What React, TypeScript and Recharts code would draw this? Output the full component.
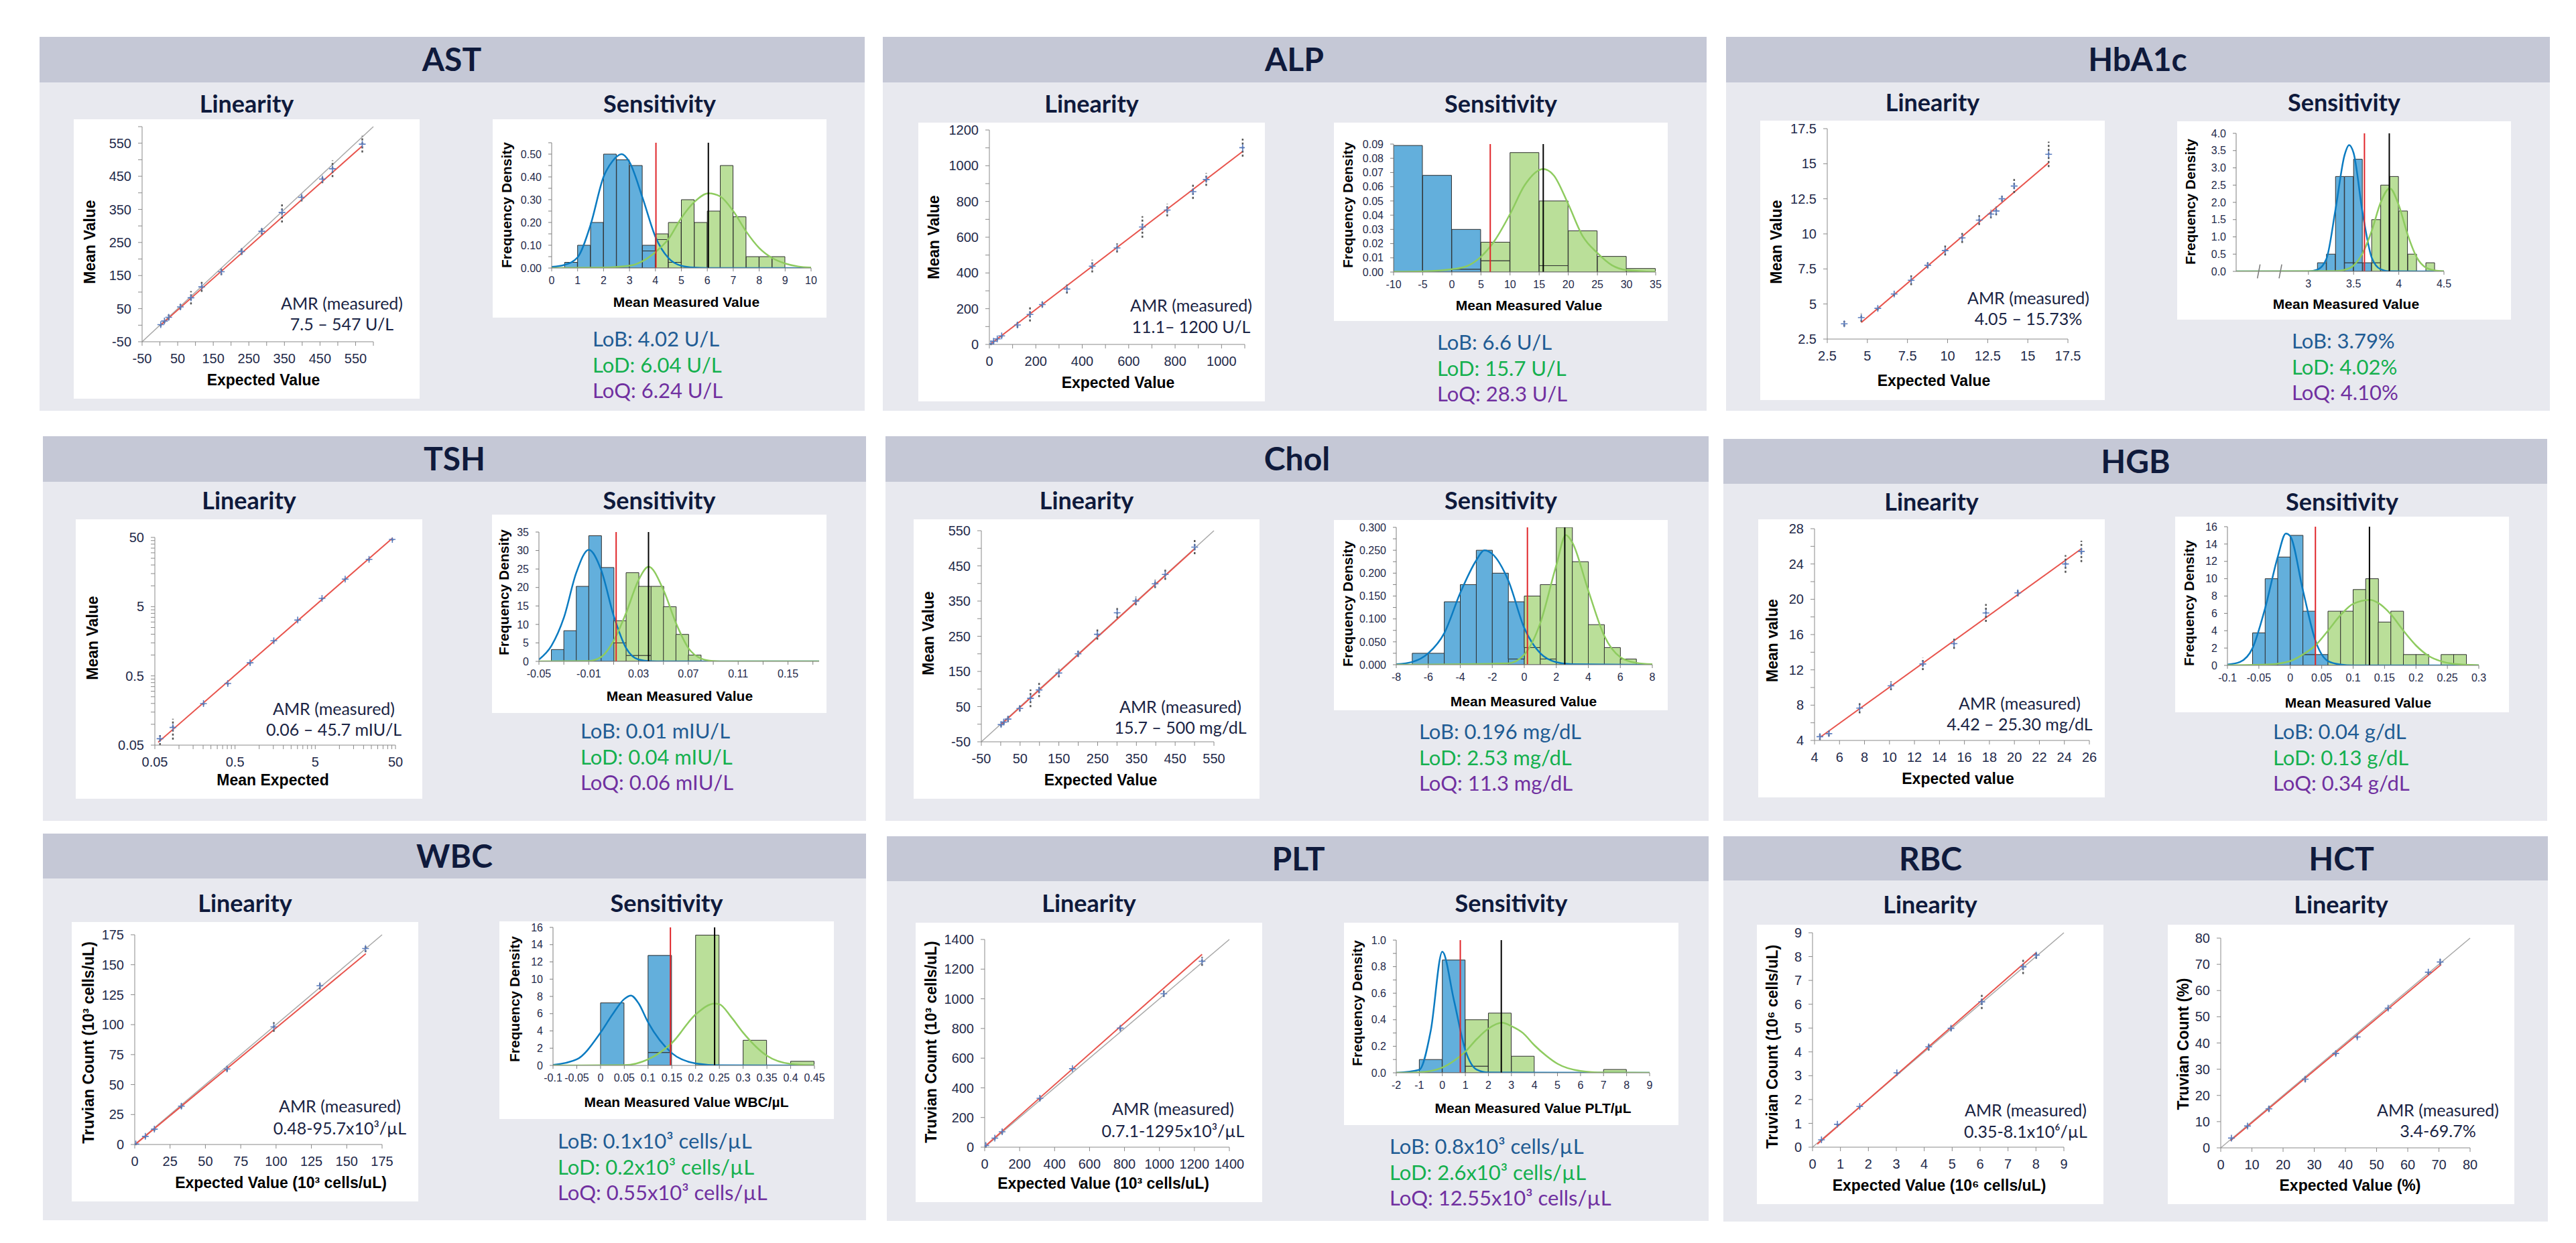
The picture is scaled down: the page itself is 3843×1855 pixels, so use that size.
import React from 'react';
import {
  ComposedChart,
  ScatterChart,
  Scatter,
  Bar,
  Line,
  XAxis,
  YAxis,
  ReferenceLine,
  ReferenceArea,
  ErrorBar,
  Cell,
} from 'recharts';

// ---------- AST ----------
const astLinX = [2.4, 12.8, 24.7, 57.6, 87.4, 117.5, 172.7, 229.6, 286.3, 343.2, 398.4, 456.8, 485.2, 568.9];
const astLinY = [1.7, 12.6, 23.8, 55.4, 82.8, 115.8, 161.6, 222.7, 283.9, 340.6, 386.4, 441.6, 472.6, 547];
const astLinSpread = [6, 6, 8, 8, 20, 15, 10, 10, 10, 30, 12, 12, 25, 25];
const astFit = [2, 0, 569, 542];
const astDiag = [-50, 600];
const astLinTicks = [-50, 0, 50, 100, 150, 200, 250, 300, 350, 400, 450, 500, 550, 600];
const astLinLabels = [-50, 50, 150, 250, 350, 450, 550];
const astBins = [0.25, 0.75, 1.25, 1.75, 2.25, 2.75, 3.25, 3.75, 4.25, 4.75, 5.25, 5.75, 6.25, 6.75, 7.25, 7.75, 8.25, 8.75, 9.25, 9.75];
const astBlue = [0, 0.025, 0.1, 0.2, 0.5, 0.475, 0.45, 0.1, 0.125, 0.025, 0, 0, 0, 0, 0, 0, 0, 0, 0, 0];
const astGreen = [0, 0, 0, 0, 0, 0, 0, 0.075, 0.15, 0.2, 0.3, 0.2, 0.25, 0.45, 0.225, 0.05, 0.05, 0.05, 0, 0];
const astBlueCurveX = [0, 0.5, 1, 1.5, 2, 2.35, 2.7, 3, 3.5, 4, 4.5, 5, 5.5, 6, 10];
const astBlueCurveY = [0.005, 0.014, 0.047, 0.19, 0.4, 0.47, 0.5, 0.465, 0.31, 0.137, 0.044, 0.01, 0.002, 0, 0];
const astGreenCurveX = [0, 2, 3, 3.5, 4, 4.5, 5, 5.5, 6.05, 6.5, 7, 7.5, 8, 8.5, 9, 9.5, 10];
const astGreenCurveY = [0, 0.002, 0.01, 0.03, 0.07, 0.127, 0.22, 0.29, 0.328, 0.314, 0.25, 0.16, 0.088, 0.044, 0.02, 0.007, 0.002];
const astSensXTicks = [0, 1, 2, 3, 4, 5, 6, 7, 8, 9, 10];
const astSensYTicks = [0, 0.05, 0.1, 0.15, 0.2, 0.25, 0.3, 0.35, 0.4, 0.45, 0.5, 0.55];
const astSensYLabels = [0, 0.1, 0.2, 0.3, 0.4, 0.5];
const astLimits = [4.02, 6.04];

// ---------- ALP ----------
const alpLinX = [7, 18, 34, 53, 121, 175, 228, 334, 443, 550, 659, 766, 877, 934, 1091];
const alpLinY = [4, 18, 31, 48, 109, 168, 223, 310, 438, 540, 657, 752, 855, 923, 1101];
const alpLinSpread = [8, 8, 8, 10, 15, 40, 15, 25, 35, 25, 60, 35, 40, 35, 50];
const alpFit = [5, 2, 1091, 1080];
const alpLinXTicks = [0, 100, 200, 300, 400, 500, 600, 700, 800, 900, 1000, 1100];
const alpLinXLabels = [0, 200, 400, 600, 800, 1000];
const alpLinYTicks = [0, 100, 200, 300, 400, 500, 600, 700, 800, 900, 1000, 1100, 1200];
const alpLinYLabels = [0, 200, 400, 600, 800, 1000, 1200];
const alpBins = [-7.5, -2.5, 2.5, 7.5, 12.5, 17.5, 22.5, 27.5, 32.5];
const alpBlue = [0.089, 0.068, 0.03, 0.008, 0, 0.0045, 0, 0, 0];
const alpGreen = [0, 0, 0.002, 0.021, 0.084, 0.05, 0.029, 0.011, 0.0025];
const alpGreenCurveX = [-10, -5, 0, 2.5, 5, 7.5, 10, 12.5, 15.7, 17.5, 20, 22.5, 25, 27.5, 30, 35];
const alpGreenCurveY = [0.0002, 0.0005, 0.002, 0.004, 0.0108, 0.023, 0.0408, 0.061, 0.0725, 0.068, 0.0477, 0.025, 0.0134, 0.0048, 0.0014, 0.0001];
const alpSensXTicks = [-10, -5, 0, 5, 10, 15, 20, 25, 30, 35];
const alpSensYTicks = [0, 0.01, 0.02, 0.03, 0.04, 0.05, 0.06, 0.07, 0.08, 0.09];
const alpLimits = [6.6, 15.7];

// ---------- HbA1c ----------
const hbaLinX = [3.56, 4.62, 5.65, 6.67, 7.73, 8.76, 9.85, 10.91, 11.97, 12.7, 13.03, 13.39, 14.15, 16.3];
const hbaLinY = [3.59, 4.03, 4.69, 5.71, 6.69, 7.76, 8.81, 9.71, 10.98, 11.41, 11.63, 12.5, 13.41, 15.67];
const hbaLinSpread = [0.2, 0.3, 0.15, 0.15, 0.35, 0.2, 0.35, 0.35, 0.35, 0.3, 0.3, 0.2, 0.5, 0.9];
const hbaFit = [4.62, 3.68, 16.3, 15.07];
const hbaLinTicks = [2.5, 5, 7.5, 10, 12.5, 15, 17.5];
const hbaBins = [3.05, 3.15, 3.25, 3.35, 3.45, 3.55, 3.65, 3.75, 3.85, 3.95, 4.05, 4.15, 4.25, 4.35, 4.45];
const hbaBlue = [0, 0.25, 0.5, 2.75, 2.75, 3.25, 0.25, 0.25, 0, 0, 0, 0, 0, 0, 0];
const hbaGreen = [0, 0, 0, 0, 0.25, 0.25, 0.25, 1.5, 2.5, 2.75, 1.75, 0.5, 0, 0.25, 0];
const hbaBlueCurveX = [2.2, 3.0, 3.1, 3.2, 3.3, 3.4, 3.45, 3.5, 3.6, 3.7, 3.8, 3.9, 4.5];
const hbaBlueCurveY = [0, 0, 0.05, 0.37, 1.8, 3.37, 3.66, 3.43, 1.69, 0.4, 0.06, 0.005, 0];
const hbaGreenCurveX = [2.2, 3.3, 3.4, 3.5, 3.6, 3.7, 3.8, 3.9, 4.0, 4.1, 4.2, 4.3, 4.4, 4.5];
const hbaGreenCurveY = [0, 0.01, 0.045, 0.17, 0.53, 1.17, 2.0, 2.41, 1.92, 1.05, 0.4, 0.11, 0.03, 0.005];
const hbaSensXTicks = [3, 3.5, 4, 4.5];
const hbaSensYTicks = [0, 0.5, 1, 1.5, 2, 2.5, 3, 3.5, 4];
const hbaLimits = [3.62, 3.895];
const hbaBreaks = [2.45, 2.69];

// ---------- TSH ----------
const tshLinX = [0.058, 0.084, 0.202, 0.406, 0.77, 1.52, 3.02, 6.07, 11.8, 23.4, 45.7];
const tshLinY = [0.062, 0.09, 0.199, 0.389, 0.773, 1.61, 3.2, 6.59, 12.5, 24.1, 46.7];
const tshLinSpread = [0.012, 0.03, 0.01, 0.02, 0.04, 0.08, 0.15, 0.3, 0.5, 1, 2];
const tshFit = [0.055, 0.055, 46, 49];
const tshLinTicks = [0.05, 0.1, 0.15, 0.2, 0.25, 0.3, 0.35, 0.4, 0.45, 0.5, 1, 1.5, 2, 2.5, 3, 3.5, 4, 4.5, 5, 10, 15, 20, 25, 30, 35, 40, 45, 50];
const tshLinLabels = [0.05, 0.5, 5, 50];
const tshBins = [-0.045, -0.035, -0.025, -0.015, -0.005, 0.005, 0.015, 0.025, 0.035, 0.045, 0.055, 0.065, 0.075, 0.085, 0.095, 0.105, 0.115, 0.125, 0.135, 0.145, 0.155, 0.165];
const tshBlue = [0, 3.2, 8.3, 20.3, 34, 25.4, 5, 1.6, 1.6, 0, 0, 0, 0, 0, 0, 0, 0, 0, 0, 0, 0, 0];
const tshGreen = [0, 0, 0, 0, 0, 0, 11, 24, 20.3, 20.3, 14.8, 7.3, 1.7, 0, 0, 0, 0, 0, 0, 0, 0, 0];
const tshBlueCurveX = [-0.05, -0.04, -0.03, -0.02, -0.01, 0, 0.01, 0.02, 0.03, 0.04, 0.05, 0.175];
const tshBlueCurveY = [0.5, 4.2, 11.8, 24, 30.2, 24.7, 12.4, 3.6, 0.5, 0.05, 0, 0];
const tshGreenCurveX = [-0.05, -0.01, 0, 0.01, 0.02, 0.03, 0.038, 0.05, 0.06, 0.07, 0.08, 0.09, 0.1, 0.175];
const tshGreenCurveY = [0, 0.1, 1.2, 5.6, 13.1, 22, 25.6, 19.3, 10.4, 3.6, 0.8, 0.1, 0, 0];
const tshSensXTicks = [-0.05, -0.03, -0.01, 0.01, 0.03, 0.05, 0.07, 0.09, 0.11, 0.13, 0.15, 0.17];
const tshSensXLabels = [-0.05, -0.01, 0.03, 0.07, 0.11, 0.15];
const tshSensYTicks = [0, 5, 10, 15, 20, 25, 30, 35];
const tshLimits = [0.012, 0.038];

// ---------- Chol ----------
const cholLinX = [0.9, 7.9, 18.9, 49.2, 76.8, 99, 150, 199.6, 249.3, 300.4, 348.6, 398.3, 424.4, 500.3];
const cholLinY = [-1.1, 6, 14.6, 44.7, 73.6, 97.3, 145.4, 200, 255.4, 316.6, 350.2, 399.1, 425.6, 503.4];
const cholLinSpread = [6, 6, 8, 8, 25, 20, 12, 8, 15, 15, 12, 12, 15, 20];
const cholFit = [0, -2, 500, 498];
const cholDiag = [-50, 550];
const cholLinTicks = [-50, 0, 50, 100, 150, 200, 250, 300, 350, 400, 450, 500, 550];
const cholLinLabels = [-50, 50, 150, 250, 350, 450, 550];
const cholBins = [-7.5, -6.5, -5.5, -4.5, -3.5, -2.5, -1.5, -0.5, 0.5, 1.5, 2.5, 3.5, 4.5, 5.5, 6.5, 7.5];
const cholBlue = [0, 0.025, 0.025, 0.1375, 0.175, 0.25, 0.2, 0.1375, 0.0375, 0.0125, 0, 0, 0, 0, 0, 0];
const cholGreen = [0, 0, 0, 0, 0, 0, 0, 0.0125, 0.15, 0.175, 0.3, 0.225, 0.0875, 0.0375, 0.0125, 0];
const cholBlueCurveX = [-8, -7, -6, -5, -4, -3, -2.5, -2, -1, 0, 1, 2, 3, 8];
const cholBlueCurveY = [0.001, 0.006, 0.025, 0.069, 0.157, 0.228, 0.25, 0.242, 0.184, 0.08, 0.025, 0.0055, 0.001, 0];
const cholGreenCurveX = [-8, -1, 0, 1, 2, 2.6, 3, 4, 5, 6, 7, 8];
const cholGreenCurveY = [0, 0.003, 0.022, 0.091, 0.217, 0.283, 0.267, 0.162, 0.063, 0.0165, 0.004, 0.001];
const cholSensXTicks = [-8, -6, -4, -2, 0, 2, 4, 6, 8];
const cholSensYTicks = [0, 0.025, 0.05, 0.075, 0.1, 0.125, 0.15, 0.175, 0.2, 0.225, 0.25, 0.275, 0.3];
const cholSensYLabels = [0, 0.05, 0.1, 0.15, 0.2, 0.25, 0.3];
const cholLimits = [0.196, 2.53];

// ---------- HGB ----------
const hgbLinX = [4.43, 5.15, 7.61, 10.12, 12.67, 15.17, 17.72, 20.27, 24.09, 25.36];
const hgbLinY = [4.43, 4.77, 7.67, 10.19, 12.67, 14.98, 18.45, 20.73, 24, 25.43];
const hgbLinSpread = [0.4, 0.3, 0.6, 0.5, 0.7, 0.6, 1.0, 0.4, 1.0, 1.2];
const hgbFit = [4.43, 4.34, 25.36, 25.72];
const hgbLinXTicks = [4, 6, 8, 10, 12, 14, 16, 18, 20, 22, 24, 26];
const hgbLinYTicks = [4, 6, 8, 10, 12, 14, 16, 18, 20, 22, 24, 26, 28];
const hgbLinYLabels = [4, 8, 12, 16, 20, 24, 28];
const hgbBins = [-0.09, -0.07, -0.05, -0.03, -0.01, 0.01, 0.03, 0.05, 0.07, 0.09, 0.11, 0.13, 0.15, 0.17, 0.19, 0.21, 0.23, 0.25, 0.27, 0.29];
const hgbBlue = [0, 0, 3.75, 10, 12.5, 15, 6.25, 1.25, 0, 0, 0, 0, 0, 0, 0, 0, 0, 0, 0, 0];
const hgbGreen = [0, 0, 0, 0, 0, 0, 1.25, 1.25, 6.25, 6.25, 8.75, 10, 5, 6.25, 1.25, 1.25, 0, 1.25, 1.25, 0];
const hgbBlueCurveX = [-0.1, -0.08, -0.06, -0.04, -0.02, -0.007, 0, 0.02, 0.04, 0.06, 0.08, 0.1, 0.3];
const hgbBlueCurveY = [0.1, 0.4, 2, 6.6, 12.5, 15.2, 14.9, 8.7, 2.85, 0.5, 0.1, 0, 0];
const hgbGreenCurveX = [-0.1, -0.04, -0.02, 0, 0.02, 0.04, 0.06, 0.08, 0.1, 0.127, 0.14, 0.16, 0.18, 0.2, 0.22, 0.24, 0.26, 0.3];
const hgbGreenCurveY = [0.02, 0.1, 0.2, 0.5, 1.25, 2.3, 4, 5.8, 7.1, 7.56, 7.2, 5.9, 4, 2.3, 1.1, 0.47, 0.17, 0.02];
const hgbSensXTicks = [-0.1, -0.05, 0, 0.05, 0.1, 0.15, 0.2, 0.25, 0.3];
const hgbSensYTicks = [0, 2, 4, 6, 8, 10, 12, 14, 16];
const hgbLimits = [0.04, 0.126];

// ---------- WBC ----------
const wbcLinX = [0.76, 7.5, 13.9, 33, 65.3, 98.4, 131, 163.3];
const wbcLinY = [0.4, 6.8, 12.8, 32, 63, 98.1, 132.5, 163.5];
const wbcLinSpread = [1, 1.5, 1.5, 2, 2, 4, 3, 3];
const wbcFit = [0.76, 0.5, 163.5, 159.2];
const wbcDiag = [0, 175];
const wbcLinTicks = [0, 25, 50, 75, 100, 125, 150, 175];
const wbcBins = [-0.075, -0.025, 0.025, 0.075, 0.125, 0.175, 0.225, 0.275, 0.325, 0.375, 0.425];
const wbcBlue = [0, 0, 7.25, 0, 12.75, 0, 0, 0, 0, 0, 0];
const wbcGreen = [0, 0, 0, 0, 1.5, 0, 15.1, 0, 2.92, 0, 0.48];
const wbcBlueCurveX = [-0.1, -0.05, 0, 0.025, 0.05, 0.064, 0.08, 0.1, 0.15, 0.2, 0.25, 0.45];
const wbcBlueCurveY = [0.05, 0.7, 3.8, 5.9, 7.7, 8.1, 7.2, 5, 1.43, 0.24, 0.02, 0];
const wbcGreenCurveX = [-0.1, 0.05, 0.1, 0.15, 0.2, 0.24, 0.25, 0.275, 0.3, 0.35, 0.4, 0.45];
const wbcGreenCurveY = [0, 0.03, 0.7, 2.6, 5.9, 7.17, 7.1, 5.6, 3.8, 1.13, 0.18, 0.02];
const wbcSensXTicks = [-0.1, -0.05, 0, 0.05, 0.1, 0.15, 0.2, 0.25, 0.3, 0.35, 0.4, 0.45];
const wbcSensYTicks = [0, 2, 4, 6, 8, 10, 12, 14, 16];
const wbcLimits = [0.147, 0.24];

// ---------- PLT ----------
const pltLinX = [6, 58, 100, 316, 502, 776, 1025, 1244];
const pltLinY = [12, 61, 104, 330, 529, 802, 1034, 1253];
const pltLinSpread = [15, 10, 15, 15, 10, 15, 20, 30];
const pltFit = [6, 10, 1244, 1300];
const pltDiag = [0, 1400];
const pltLinTicks = [0, 200, 400, 600, 800, 1000, 1200, 1400];
const pltBins = [-1.5, -0.5, 0.5, 1.5, 2.5, 3.5, 4.5, 5.5, 6.5, 7.5, 8.5];
const pltBlue = [0, 0.1, 0.85, 0.05, 0, 0, 0, 0, 0, 0, 0];
const pltGreen = [0, 0, 0, 0.4, 0.45, 0.125, 0, 0, 0, 0.025, 0];
const pltBlueCurveX = [-2, -1, -0.5, 0, 0.5, 1, 1.5, 2, 9];
const pltBlueCurveY = [0, 0.023, 0.32, 0.913, 0.55, 0.17, 0.023, 0.002, 0];
const pltGreenCurveX = [-2, -1, 0, 0.5, 1, 1.5, 2, 2.6, 3, 3.5, 4, 4.5, 5, 6, 7, 9];
const pltGreenCurveY = [0, 0.004, 0.04, 0.09, 0.16, 0.255, 0.333, 0.377, 0.352, 0.3, 0.207, 0.13, 0.068, 0.014, 0.002, 0];
const pltSensXTicks = [-2, -1, 0, 1, 2, 3, 4, 5, 6, 7, 8, 9];
const pltSensYTicks = [0, 0.1, 0.2, 0.3, 0.4, 0.5, 0.6, 0.7, 0.8, 0.9, 1];
const pltSensYLabels = [0, 0.2, 0.4, 0.6, 0.8, 1];
const pltLimits = [0.78, 2.56];

// ---------- RBC / HCT ----------
const rbcLinX = [0.32, 0.89, 1.69, 3.02, 4.16, 4.96, 6.06, 7.54, 8.01];
const rbcLinY = [0.31, 0.96, 1.71, 3.12, 4.21, 4.99, 6.1, 7.57, 8.06];
const rbcLinSpread = [0.06, 0.06, 0.06, 0.06, 0.15, 0.1, 0.3, 0.3, 0.15];
const rbcFit = [0.17, 0.13, 8.01, 8.16];
const rbcDiag = [0, 9];
const rbcLinTicks = [0, 1, 2, 3, 4, 5, 6, 7, 8, 9];
const hctLinX = [3.43, 8.58, 15.46, 27.1, 36.9, 43.8, 53.7, 66.6, 70.4];
const hctLinY = [3.73, 8.33, 14.87, 26.2, 36, 42.3, 53.3, 67, 70.9];
const hctLinSpread = [0.8, 0.8, 1, 1, 0.8, 0.6, 0.8, 0.8, 1];
const hctFit = [3.1, 2.73, 70.7, 69.9];
const hctDiag = [0, 80];
const hctLinTicks = [0, 10, 20, 30, 40, 50, 60, 70, 80];

// ---------- look ----------
const UI = 'Lato, "Noto Sans", sans-serif';
const CH = '"Liberation Sans", Arial, sans-serif';
const NAVY = '#0f1a3c';
const TICK = '#1f2a4a';
const HEAD_BG = '#c5c8d6';
const BODY_BG = '#e8e9ef';
const BAR_BLUE = '#63afdc';
const BAR_GREEN = '#badf99';
const BAR_BOTH = '#7dc38b';
const CURVE_BLUE = '#0b7bc1';
const CURVE_GREEN = '#8ecb5f';
const LOB_C = '#1f5c94';
const LOD_C = '#14b04e';
const LOQ_C = '#7030a0';

const pick = (labels: number[]) => (v: number) => (labels.includes(v) ? String(v) : '');
const pickFixed = (labels: number[], d: number) => (v: number) => (labels.includes(v) ? v.toFixed(d) : '');
const zip = (xs: number[], ys: number[]) => xs.map((x, i) => ({ x, y: ys[i] }));

const plus = (p: any) => (
  <path
    d={`M${p.cx - 5},${p.cy}h10M${p.cx},${p.cy - 5}v10`}
    stroke="#5a7cbf"
    strokeWidth={1.6}
  />
);

const LinChart = ({ c }: { c: any }) => {
  const rows = c.xs.map((x: number, i: number) => ({
    x,
    y: c.ys[i],
    err: [c.spread[i], c.spread[i]],
  }));
  const tick = { fill: TICK, fontSize: 20, fontFamily: CH };
  return (
    <div style={{ position: 'absolute', left: c.box.x, top: c.box.y, width: c.box.w, height: c.box.h, background: '#fff' }}>
      <ScatterChart
        width={c.box.w}
        height={c.box.h}
        margin={{ top: c.inset.t, right: c.inset.r, left: 0, bottom: 0 }}
      >
        <XAxis
          type="number"
          dataKey="x"
          scale={c.log ? 'log' : 'auto'}
          domain={c.xDomain}
          ticks={c.xTicks}
          interval={0}
          tickFormatter={pick(c.xLabels)}
          allowDataOverflow
          height={c.inset.b}
          stroke="#8a8a8a"
          tick={tick}
          tickSize={6}
          tickMargin={12}
        />
        <YAxis
          type="number"
          dataKey="y"
          scale={c.log ? 'log' : 'auto'}
          domain={c.yDomain}
          ticks={c.yTicks}
          interval={0}
          tickFormatter={pick(c.yLabels)}
          allowDataOverflow
          width={c.inset.l}
          stroke="#8a8a8a"
          tick={tick}
          tickSize={6}
          tickMargin={10}
        />
        {c.diag && (
          <ReferenceLine
            segment={[{ x: c.diag[0], y: c.diag[0] }, { x: c.diag[1], y: c.diag[1] }]}
            stroke="#a8a8a8"
            strokeWidth={1.5}
            ifOverflow="visible"
          />
        )}
        <ReferenceLine
          segment={[{ x: c.fit[0], y: c.fit[1] }, { x: c.fit[2], y: c.fit[3] }]}
          stroke="#e8544d"
          strokeWidth={2}
          ifOverflow="visible"
        />
        <Scatter data={rows} shape={plus} isAnimationActive={false}>
          <ErrorBar dataKey="err" direction="y" width={0} stroke="#555" strokeWidth={2.5} strokeDasharray="3 3" />
        </Scatter>
      </ScatterChart>
    </div>
  );
};

const SensChart = ({ c }: { c: any }) => {
  const rows = c.bins.map((x: number, i: number) => {
    const lo = Math.min(c.blue[i], c.green[i]);
    return {
      x,
      both: lo,
      extra: Math.max(c.blue[i], c.green[i]) - lo,
      fill: c.blue[i] >= c.green[i] ? BAR_BLUE : BAR_GREEN,
    };
  });
  const tick = { fill: TICK, fontSize: 16, fontFamily: CH };
  return (
    <div style={{ position: 'absolute', left: c.box.x, top: c.box.y, width: c.box.w, height: c.box.h, background: '#fff' }}>
      <ComposedChart
        width={c.box.w}
        height={c.box.h}
        data={rows}
        barCategoryGap={0}
        barGap={0}
        margin={{ top: c.inset.t, right: c.inset.r, left: 0, bottom: 0 }}
      >
        <XAxis
          xAxisId="v"
          type="number"
          dataKey="x"
          domain={c.xDomain}
          ticks={c.xTicks}
          interval={0}
          tickFormatter={pick(c.xLabels)}
          allowDataOverflow
          height={c.inset.b}
          stroke="#7f7f7f"
          tick={tick}
          tickSize={5}
          tickMargin={8}
        />
        <XAxis xAxisId="bins" type="number" dataKey="x" domain={c.xDomain} allowDataOverflow hide height={0} />
        <YAxis
          type="number"
          domain={c.yDomain}
          ticks={c.yTicks}
          interval={0}
          tickFormatter={pickFixed(c.yLabels, c.yDec)}
          allowDataOverflow
          width={c.inset.l}
          stroke="#7f7f7f"
          tick={tick}
          tickSize={5}
          tickMargin={10}
        />
        <Bar xAxisId="bins" dataKey="both" stackId="h" fill={BAR_BOTH} stroke="#2e2e2e" strokeWidth={1} isAnimationActive={false} />
        <Bar xAxisId="bins" dataKey="extra" stackId="h" stroke="#2e2e2e" strokeWidth={1} isAnimationActive={false}>
          {rows.map((r: any, i: number) => (
            <Cell key={i} fill={r.fill} />
          ))}
        </Bar>
        {c.blueCurve && (
          <Line xAxisId="v" data={c.blueCurve} dataKey="y" type="monotone" stroke={CURVE_BLUE} strokeWidth={2.5} dot={false} isAnimationActive={false} />
        )}
        <Line xAxisId="v" data={c.greenCurve} dataKey="y" type="monotone" stroke={CURVE_GREEN} strokeWidth={2.5} dot={false} isAnimationActive={false} />
        {c.breaks && (
          <ReferenceArea xAxisId="v" x1={c.breaks[0]} x2={c.breaks[1]} y1={-0.12} y2={0.06} fill="#fff" fillOpacity={1} stroke="none" ifOverflow="visible" />
        )}
        {c.breaks &&
          c.breaks.map((b: number) => (
            <ReferenceLine
              key={b}
              xAxisId="v"
              segment={[{ x: b - 0.015, y: -0.2 }, { x: b + 0.015, y: 0.2 }]}
              stroke="#777"
              strokeWidth={1.5}
              ifOverflow="visible"
            />
          ))}
        <ReferenceLine xAxisId="v" x={c.limits[0]} stroke="#e0262a" strokeWidth={2} />
        <ReferenceLine xAxisId="v" x={c.limits[1]} stroke="#000" strokeWidth={2} />
      </ComposedChart>
    </div>
  );
};

const linCharts = [
  { box: { x: 110, y: 178, w: 516, h: 417 }, inset: { l: 102, t: 11, r: 69, b: 85 }, xDomain: [-50, 600], yDomain: [-50, 600], xTicks: astLinTicks, xLabels: astLinLabels, yTicks: astLinTicks, yLabels: astLinLabels, xs: astLinX, ys: astLinY, spread: astLinSpread, fit: astFit, diag: astDiag, yTitle: 'Mean Value', xTitle: 'Expected Value', yT: [134, 361], xT: [393, 567], amr: '7.5 – 547 U/L', amrPos: [510, 452, 483], subY: 168 },
  { box: { x: 1370, y: 183, w: 517, h: 416 }, inset: { l: 106, t: 11, r: 30, b: 85 }, xDomain: [0, 1100], yDomain: [0, 1200], xTicks: alpLinXTicks, xLabels: alpLinXLabels, yTicks: alpLinYTicks, yLabels: alpLinYLabels, xs: alpLinX, ys: alpLinY, spread: alpLinSpread, fit: alpFit, yTitle: 'Mean Value', xTitle: 'Expected Value', yT: [1393, 354], xT: [1668, 571], amr: '11.1– 1200 U/L', amrPos: [1777, 455, 487], subY: 168 },
  { box: { x: 2626, y: 180, w: 514, h: 417 }, inset: { l: 100, t: 12, r: 55, b: 91 }, xDomain: [2.5, 17.5], yDomain: [2.5, 17.5], xTicks: hbaLinTicks, xLabels: hbaLinTicks, yTicks: hbaLinTicks, yLabels: hbaLinTicks, xs: hbaLinX, ys: hbaLinY, spread: hbaLinSpread, fit: hbaFit, yTitle: 'Mean Value', xTitle: 'Expected Value', yT: [2650, 361], xT: [2885, 568], amr: '4.05 – 15.73%', amrPos: [3026, 444, 475], subY: 166 },
  { box: { x: 113, y: 775, w: 517, h: 417 }, inset: { l: 118, t: 27, r: 40, b: 80 }, log: true, xDomain: [0.05, 50], yDomain: [0.05, 50], xTicks: tshLinTicks, xLabels: tshLinLabels, yTicks: tshLinTicks, yLabels: tshLinLabels, xs: tshLinX, ys: tshLinY, spread: tshLinSpread, fit: tshFit, yTitle: 'Mean Value', xTitle: 'Mean Expected', yT: [138, 952], xT: [407, 1164], amr: '0.06 – 45.7 mIU/L', amrPos: [498, 1057, 1088], subY: 760 },
  { box: { x: 1363, y: 775, w: 516, h: 417 }, inset: { l: 101, t: 17, r: 68, b: 85 }, xDomain: [-50, 550], yDomain: [-50, 550], xTicks: cholLinTicks, xLabels: cholLinLabels, yTicks: cholLinTicks, yLabels: cholLinLabels, xs: cholLinX, ys: cholLinY, spread: cholLinSpread, fit: cholFit, diag: cholDiag, yTitle: 'Mean Value', xTitle: 'Expected Value', yT: [1385, 945], xT: [1642, 1164], amr: '15.7 – 500 mg/dL', amrPos: [1761, 1054, 1085], subY: 760 },
  { box: { x: 2623, y: 775, w: 517, h: 415 }, inset: { l: 84, t: 14, r: 23, b: 85 }, xDomain: [4, 26], yDomain: [4, 28], xTicks: hgbLinXTicks, xLabels: hgbLinXTicks, yTicks: hgbLinYTicks, yLabels: hgbLinYLabels, xs: hgbLinX, ys: hgbLinY, spread: hgbLinSpread, fit: hgbFit, yTitle: 'Mean value', xTitle: 'Expected value', yT: [2644, 956], xT: [2921, 1162], amr: '4.42 – 25.30 mg/dL', amrPos: [3013, 1049, 1080], subY: 762 },
  { box: { x: 107, y: 1376, w: 517, h: 417 }, inset: { l: 94, t: 19, r: 54, b: 85 }, xDomain: [0, 175], yDomain: [0, 175], xTicks: wbcLinTicks, xLabels: wbcLinTicks, yTicks: wbcLinTicks, yLabels: wbcLinTicks, xs: wbcLinX, ys: wbcLinY, spread: wbcLinSpread, fit: wbcFit, diag: wbcDiag, yTitle: 'Truvian Count (10³ cells/uL)', xTitle: 'Expected Value (10³ cells/uL)', yT: [132, 1556], xT: [419, 1765], amr: '0.48-95.7x10³/µL', amrPos: [507, 1650, 1683], subY: 1361 },
  { box: { x: 1366, y: 1377, w: 517, h: 417 }, inset: { l: 103, t: 25, r: 49, b: 82 }, xDomain: [0, 1400], yDomain: [0, 1400], xTicks: pltLinTicks, xLabels: pltLinTicks, yTicks: pltLinTicks, yLabels: pltLinTicks, xs: pltLinX, ys: pltLinY, spread: pltLinSpread, fit: pltFit, diag: pltDiag, yTitle: 'Truvian Count (10³ cells/uL)', xTitle: 'Expected Value (10³ cells/uL)', yT: [1389, 1555], xT: [1646, 1766], amr: '0.7.1-1295x10³/µL', amrPos: [1750, 1654, 1687], subY: 1361 },
  { box: { x: 2621, y: 1380, w: 517, h: 417 }, inset: { l: 83, t: 12, r: 59, b: 85 }, xDomain: [0, 9], yDomain: [0, 9], xTicks: rbcLinTicks, xLabels: rbcLinTicks, yTicks: rbcLinTicks, yLabels: rbcLinTicks, xs: rbcLinX, ys: rbcLinY, spread: rbcLinSpread, fit: rbcFit, diag: rbcDiag, yTitle: 'Truvian Count (10⁶ cells/uL)', xTitle: 'Expected Value (10⁶ cells/uL)', yT: [2644, 1562], xT: [2893, 1769], amr: '0.35-8.1x10⁶/µL', amrPos: [3022, 1656, 1688], subY: 1363 },
  { box: { x: 3234, y: 1380, w: 517, h: 417 }, inset: { l: 79, t: 20, r: 66, b: 84 }, xDomain: [0, 80], yDomain: [0, 80], xTicks: hctLinTicks, xLabels: hctLinTicks, yTicks: hctLinTicks, yLabels: hctLinTicks, xs: hctLinX, ys: hctLinY, spread: hctLinSpread, fit: hctFit, diag: hctDiag, yTitle: 'Truvian Count (%)', xTitle: 'Expected Value (%)', yT: [3257, 1558], xT: [3506, 1769], amr: '3.4-69.7%', amrPos: [3637, 1656, 1687], subY: 1363 },
];

const sensCharts = [
  { box: { x: 735, y: 178, w: 498, h: 296 }, inset: { l: 88, t: 35, r: 23, b: 74 }, xDomain: [0, 10], yDomain: [0, 0.55], xTicks: astSensXTicks, xLabels: astSensXTicks, yTicks: astSensYTicks, yLabels: astSensYLabels, yDec: 2, bins: astBins, blue: astBlue, green: astGreen, blueCurve: zip(astBlueCurveX, astBlueCurveY), greenCurve: zip(astGreenCurveX, astGreenCurveY), limits: astLimits, xTitle: 'Mean Measured Value', fT: [755, 306], mT: [1024, 450], stats: ['LoB: 4.02 U/L', 'LoD: 6.04 U/L', 'LoQ: 6.24 U/L'], statsPos: [884, 505], subY: 168 },
  { box: { x: 1990, y: 183, w: 498, h: 296 }, inset: { l: 89, t: 32, r: 18, b: 73 }, xDomain: [-10, 35], yDomain: [0, 0.09], xTicks: alpSensXTicks, xLabels: alpSensXTicks, yTicks: alpSensYTicks, yLabels: alpSensYTicks, yDec: 2, bins: alpBins, blue: alpBlue, green: alpGreen, greenCurve: zip(alpGreenCurveX, alpGreenCurveY), limits: alpLimits, xTitle: 'Mean Measured Value', fT: [2010, 306], mT: [2281, 455], stats: ['LoB: 6.6 U/L', 'LoD: 15.7 U/L', 'LoQ: 28.3 U/L'], statsPos: [2144, 510], subY: 168 },
  { box: { x: 3248, y: 181, w: 498, h: 296 }, inset: { l: 88, t: 18, r: 100, b: 72 }, xDomain: [2.2, 4.5], yDomain: [0, 4], xTicks: hbaSensXTicks, xLabels: hbaSensXTicks, yTicks: hbaSensYTicks, yLabels: hbaSensYTicks, yDec: 1, bins: hbaBins, blue: hbaBlue, green: hbaGreen, blueCurve: zip(hbaBlueCurveX, hbaBlueCurveY), greenCurve: zip(hbaGreenCurveX, hbaGreenCurveY), limits: hbaLimits, breaks: hbaBreaks, xTitle: 'Mean Measured Value', fT: [3267, 301], mT: [3500, 453], stats: ['LoB: 3.79%', 'LoD: 4.02%', 'LoQ: 4.10%'], statsPos: [3419, 508], subY: 166 },
  { box: { x: 734, y: 768, w: 499, h: 296 }, inset: { l: 70, t: 26, r: 11, b: 77 }, xDomain: [-0.05, 0.175], yDomain: [0, 35], xTicks: tshSensXTicks, xLabels: tshSensXLabels, yTicks: tshSensYTicks, yLabels: tshSensYTicks, yDec: 0, bins: tshBins, blue: tshBlue, green: tshGreen, blueCurve: zip(tshBlueCurveX, tshBlueCurveY), greenCurve: zip(tshGreenCurveX, tshGreenCurveY), limits: tshLimits, xTitle: 'Mean Measured Value', fT: [751, 884], mT: [1014, 1038], stats: ['LoB: 0.01 mIU/L', 'LoD: 0.04 mIU/L', 'LoQ: 0.06 mIU/L'], statsPos: [866, 1090], subY: 760 },
  { box: { x: 1990, y: 776, w: 498, h: 284 }, inset: { l: 93, t: 11, r: 23, b: 68 }, xDomain: [-8, 8], yDomain: [0, 0.3], xTicks: cholSensXTicks, xLabels: cholSensXTicks, yTicks: cholSensYTicks, yLabels: cholSensYLabels, yDec: 3, bins: cholBins, blue: cholBlue, green: cholGreen, blueCurve: zip(cholBlueCurveX, cholBlueCurveY), greenCurve: zip(cholGreenCurveX, cholGreenCurveY), limits: cholLimits, xTitle: 'Mean Measured Value', fT: [2010, 901], mT: [2273, 1046], stats: ['LoB: 0.196 mg/dL', 'LoD: 2.53 mg/dL', 'LoQ: 11.3 mg/dL'], statsPos: [2117, 1091], subY: 760 },
  { box: { x: 3245, y: 771, w: 498, h: 292 }, inset: { l: 78, t: 15, r: 45, b: 70 }, xDomain: [-0.1, 0.3], yDomain: [0, 16], xTicks: hgbSensXTicks, xLabels: hgbSensXTicks, yTicks: hgbSensYTicks, yLabels: hgbSensYTicks, yDec: 0, bins: hgbBins, blue: hgbBlue, green: hgbGreen, blueCurve: zip(hgbBlueCurveX, hgbBlueCurveY), greenCurve: zip(hgbGreenCurveX, hgbGreenCurveY), limits: hgbLimits, xTitle: 'Mean Measured Value', fT: [3265, 900], mT: [3518, 1048], stats: ['LoB: 0.04 g/dL', 'LoD: 0.13 g/dL', 'LoQ: 0.34 g/dL'], statsPos: [3391, 1091], subY: 762 },
  { box: { x: 745, y: 1375, w: 499, h: 295 }, inset: { l: 80, t: 9, r: 29, b: 80 }, xDomain: [-0.1, 0.45], yDomain: [0, 16], xTicks: wbcSensXTicks, xLabels: wbcSensXTicks, yTicks: wbcSensYTicks, yLabels: wbcSensYTicks, yDec: 0, bins: wbcBins, blue: wbcBlue, green: wbcGreen, blueCurve: zip(wbcBlueCurveX, wbcBlueCurveY), greenCurve: zip(wbcGreenCurveX, wbcGreenCurveY), limits: wbcLimits, xTitle: 'Mean Measured Value WBC/µL', fT: [767, 1491], mT: [1024, 1644], stats: ['LoB: 0.1x10³ cells/µL', 'LoD: 0.2x10³ cells/µL', 'LoQ: 0.55x10³ cells/µL'], statsPos: [832, 1702], subY: 1361 },
  { box: { x: 2005, y: 1377, w: 499, h: 302 }, inset: { l: 78, t: 26, r: 43, b: 78 }, xDomain: [-2, 9], yDomain: [0, 1], xTicks: pltSensXTicks, xLabels: pltSensXTicks, yTicks: pltSensYTicks, yLabels: pltSensYLabels, yDec: 1, bins: pltBins, blue: pltBlue, green: pltGreen, blueCurve: zip(pltBlueCurveX, pltBlueCurveY), greenCurve: zip(pltGreenCurveX, pltGreenCurveY), limits: pltLimits, xTitle: 'Mean Measured Value PLT/µL', fT: [2024, 1497], mT: [2287, 1653], stats: ['LoB: 0.8x10³ cells/µL', 'LoD: 2.6x10³ cells/µL', 'LoQ: 12.55x10³ cells/µL'], statsPos: [2073, 1710], subY: 1361 },
];

const panels = [
  { x: 59, y: 55, w: 1231, h: 558, hh: 68, heads: [['AST', 674]] },
  { x: 1317, y: 55, w: 1229, h: 558, hh: 68, heads: [['ALP', 1931]] },
  { x: 2575, y: 55, w: 1229, h: 558, hh: 68, heads: [['HbA1c', 3189]] },
  { x: 64, y: 651, w: 1228, h: 574, hh: 68, heads: [['TSH', 678]] },
  { x: 1321, y: 651, w: 1228, h: 574, hh: 68, heads: [['Chol', 1935]] },
  { x: 2571, y: 655, w: 1229, h: 570, hh: 67, heads: [['HGB', 3186]] },
  { x: 64, y: 1244, w: 1228, h: 577, hh: 67, heads: [['WBC', 678]] },
  { x: 1323, y: 1248, w: 1226, h: 574, hh: 67, heads: [['PLT', 1937]] },
  { x: 2571, y: 1248, w: 1230, h: 575, hh: 66, heads: [['RBC', 2880], ['HCT', 3493]] },
];

const STAT_COLORS = [LOB_C, LOD_C, LOQ_C];

export default function App() {
  return (
    <div style={{ position: 'absolute', left: 0, top: 0, width: 3843, height: 1855, background: '#fff', overflow: 'hidden' }}>
      {panels.map((p, i) => (
        <div key={i} style={{ position: 'absolute', left: p.x, top: p.y, width: p.w, height: p.h, background: BODY_BG }}>
          <div style={{ position: 'absolute', left: 0, top: 0, width: p.w, height: p.hh, background: HEAD_BG }} />
        </div>
      ))}
      {linCharts.map((c, i) => (
        <LinChart key={`l${i}`} c={c} />
      ))}
      {sensCharts.map((c, i) => (
        <SensChart key={`s${i}`} c={c} />
      ))}
      <svg width={3843} height={1855} style={{ position: 'absolute', left: 0, top: 0, pointerEvents: 'none' }}>
        {panels.map((p, i) =>
          p.heads.map(([t, cx]) => (
            <text key={`${i}${t}`} x={cx as number} y={p.y + 51} textAnchor="middle" fontFamily={UI} fontWeight={700} fontSize={48} fill={NAVY}>
              {t}
            </text>
          ))
        )}
        {linCharts.map((c, i) => (
          <g key={`lt${i}`}>
            <text x={c.box.x + c.box.w / 2} y={c.subY} textAnchor="middle" fontFamily={UI} fontWeight={700} fontSize={36} fill={NAVY}>
              Linearity
            </text>
            <text
              x={c.yT[0]}
              y={c.yT[1]}
              transform={`rotate(-90 ${c.yT[0]} ${c.yT[1]})`}
              textAnchor="middle"
              dominantBaseline="central"
              fontFamily={CH}
              fontWeight={700}
              fontSize={23}
              fill="#000"
            >
              {c.yTitle}
            </text>
            <text x={c.xT[0]} y={c.xT[1]} textAnchor="middle" dominantBaseline="central" fontFamily={CH} fontWeight={700} fontSize={23} fill="#000">
              {c.xTitle}
            </text>
            <text x={c.amrPos[0]} y={c.amrPos[1]} textAnchor="middle" dominantBaseline="central" fontFamily={UI} fontSize={25} fill="#1a2444">
              AMR (measured)
            </text>
            <text x={c.amrPos[0]} y={c.amrPos[2]} textAnchor="middle" dominantBaseline="central" fontFamily={UI} fontSize={25} fill="#1a2444">
              {c.amr}
            </text>
          </g>
        ))}
        {sensCharts.map((c, i) => (
          <g key={`st${i}`}>
            <text x={c.box.x + c.box.w / 2} y={c.subY} textAnchor="middle" fontFamily={UI} fontWeight={700} fontSize={36} fill={NAVY}>
              Sensitivity
            </text>
            <text
              x={c.fT[0]}
              y={c.fT[1]}
              transform={`rotate(-90 ${c.fT[0]} ${c.fT[1]})`}
              textAnchor="middle"
              dominantBaseline="central"
              fontFamily={CH}
              fontWeight={700}
              fontSize={21}
              fill="#000"
            >
              Frequency Density
            </text>
            <text x={c.mT[0]} y={c.mT[1]} textAnchor="middle" dominantBaseline="central" fontFamily={CH} fontWeight={700} fontSize={21} fill="#000">
              {c.xTitle}
            </text>
            {c.stats.map((s, k) => (
              <text key={k} x={c.statsPos[0]} y={c.statsPos[1] + k * 38.5} dominantBaseline="central" fontFamily={UI} fontSize={31} fill={STAT_COLORS[k]}>
                {s}
              </text>
            ))}
          </g>
        ))}
      </svg>
    </div>
  );
}
